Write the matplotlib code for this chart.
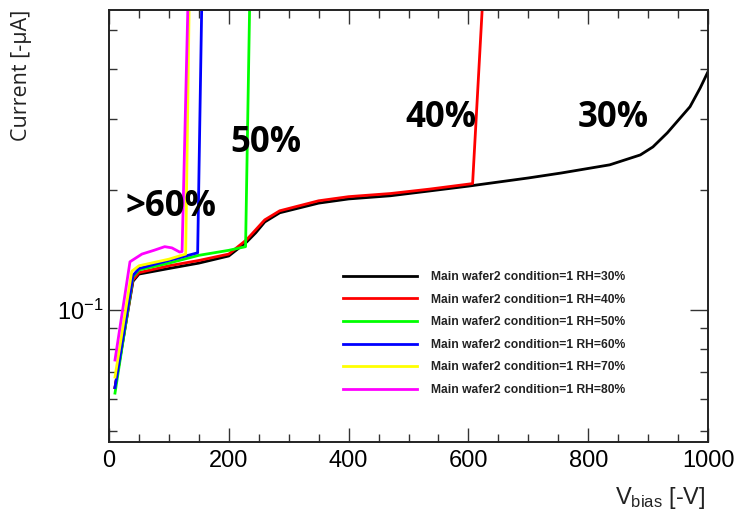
import matplotlib
matplotlib.use("Agg")
import matplotlib.pyplot as plt
from matplotlib.ticker import FixedLocator, MultipleLocator, NullFormatter, FixedFormatter

plt.rcParams["mathtext.fontset"] = "custom"
plt.rcParams["mathtext.rm"] = "Liberation Sans"
plt.rcParams["mathtext.it"] = "Liberation Sans"
plt.rcParams["font.family"] = ["Liberation Sans", "DejaVu Sans"]

# IV scans (bias voltage [-V], leakage current [-uA]) at different humidity levels
v_30 = [10, 40, 50, 100, 150, 200, 230, 245, 260, 285, 350, 400, 470, 535,
        600, 700, 755, 836, 887, 908, 932, 970, 987, 1000]
i_30 = [0.064, 0.118, 0.123, 0.127, 0.131, 0.1365, 0.148, 0.156, 0.166,
        0.175, 0.185, 0.1895, 0.193, 0.1984, 0.204, 0.2138, 0.220, 0.2306, 0.2441,
        0.2556, 0.2771, 0.3222, 0.3589, 0.394]

v_40 = [10, 40, 50, 100, 150, 200, 230, 260, 285, 350, 400, 470, 535, 607, 624]
i_40 = [0.064, 0.119, 0.124, 0.129, 0.133, 0.138, 0.150, 0.168, 0.177, 0.1875,
        0.192, 0.1955, 0.2005, 0.207, 0.6]

v_50 = [10, 40, 50, 100, 150, 200, 228, 235]
i_50 = [0.062, 0.121, 0.126, 0.131, 0.137, 0.141, 0.144, 0.6]

v_60 = [10, 40, 50, 100, 148, 155]
i_60 = [0.064, 0.122, 0.127, 0.133, 0.139, 0.6]

v_70 = [10, 38, 50, 100, 128, 134]
i_70 = [0.068, 0.125, 0.129, 0.134, 0.138, 0.6]

v_80 = [10, 35, 55, 75, 93, 105, 118, 122, 132]
i_80 = [0.075, 0.132, 0.138, 0.141, 0.144, 0.143, 0.1396, 0.140, 0.6]

series_v = [v_30, v_40, v_50, v_60, v_70, v_80]
series_i = [i_30, i_40, i_50, i_60, i_70, i_80]
series_labels = ["Main wafer2 condition=1 RH=30%",
                 "Main wafer2 condition=1 RH=40%",
                 "Main wafer2 condition=1 RH=50%",
                 "Main wafer2 condition=1 RH=60%",
                 "Main wafer2 condition=1 RH=70%",
                 "Main wafer2 condition=1 RH=80%"]
series_colors = ["#000000", "#ff0000", "#00ff00", "#0000ff", "#ffff00", "#ff00ff"]

# breakdown annotations (text, voltage, current)
notes = [(">60%", 27, 0.181), ("50%", 202, 0.2615), ("40%", 494, 0.302), ("30%", 783, 0.302)]

fig = plt.figure(figsize=(7.35, 5.16), dpi=100)
ax = fig.add_axes([109 / 735, 1 - 442 / 516, 599 / 735, 432 / 516])

handles = []
for v, i, lab, col in zip(series_v, series_i, series_labels, series_colors):
    h, = ax.plot(v, i, color=col, lw=2.0, label=lab, solid_joinstyle="round")
    handles.append(h)

ax.set_yscale("log")
ax.set_xlim(0, 1000)
ax.set_ylim(0.0468, 0.562)

# x ticks: labels every 200, small ticks every 50
ax.xaxis.set_major_locator(MultipleLocator(200))
ax.xaxis.set_minor_locator(MultipleLocator(50))
# y ticks: only 10^-1 labelled
ax.yaxis.set_major_locator(FixedLocator([0.1]))
ax.yaxis.set_major_formatter(FixedFormatter([r"$10^{-1}$"]))
ax.yaxis.set_minor_locator(FixedLocator([0.05, 0.06, 0.07, 0.08, 0.09, 0.2, 0.3, 0.4, 0.5]))
ax.yaxis.set_minor_formatter(NullFormatter())

ax.tick_params(which="both", direction="in", top=True, right=True, width=1.0, color="#333333")
ax.tick_params(which="major", length=10, labelsize=17, pad=6)
ax.tick_params(which="minor", length=6)
ax.tick_params(axis="y", which="major", length=13, pad=4)

for s in ax.spines.values():
    s.set_linewidth(1.4)
    s.set_color("#222222")

for txt, xv, yv in notes:
    ax.text(xv, yv, txt, fontsize=25, fontweight="bold", family=["Open Sans", "DejaVu Sans"],
            ha="left", va="center", color="black")

leg = ax.legend(handles=handles, loc="upper left", bbox_to_anchor=(332 / 735, 1 - 260 / 516),
                bbox_transform=fig.transFigure, frameon=False,
                prop={"family": "Liberation Sans", "weight": "bold", "size": 8.7},
                handlelength=6.1, handletextpad=1.2, labelspacing=0.88)
for t in leg.get_texts():
    t.set_color("#222222")

fig.text(22 / 735, 1 - 10 / 516, "Current [-μA]", rotation=90, ha="center", va="top",
         fontsize=15.5, family=["Open Sans", "DejaVu Sans"], color="#222222")
fig.text(706 / 735, 1 - 504 / 516, r"V$_{\mathrm{bias}}$ [-V]", ha="right", va="baseline",
         fontsize=17, color="#222222")

fig.savefig("out.png", dpi=100)
